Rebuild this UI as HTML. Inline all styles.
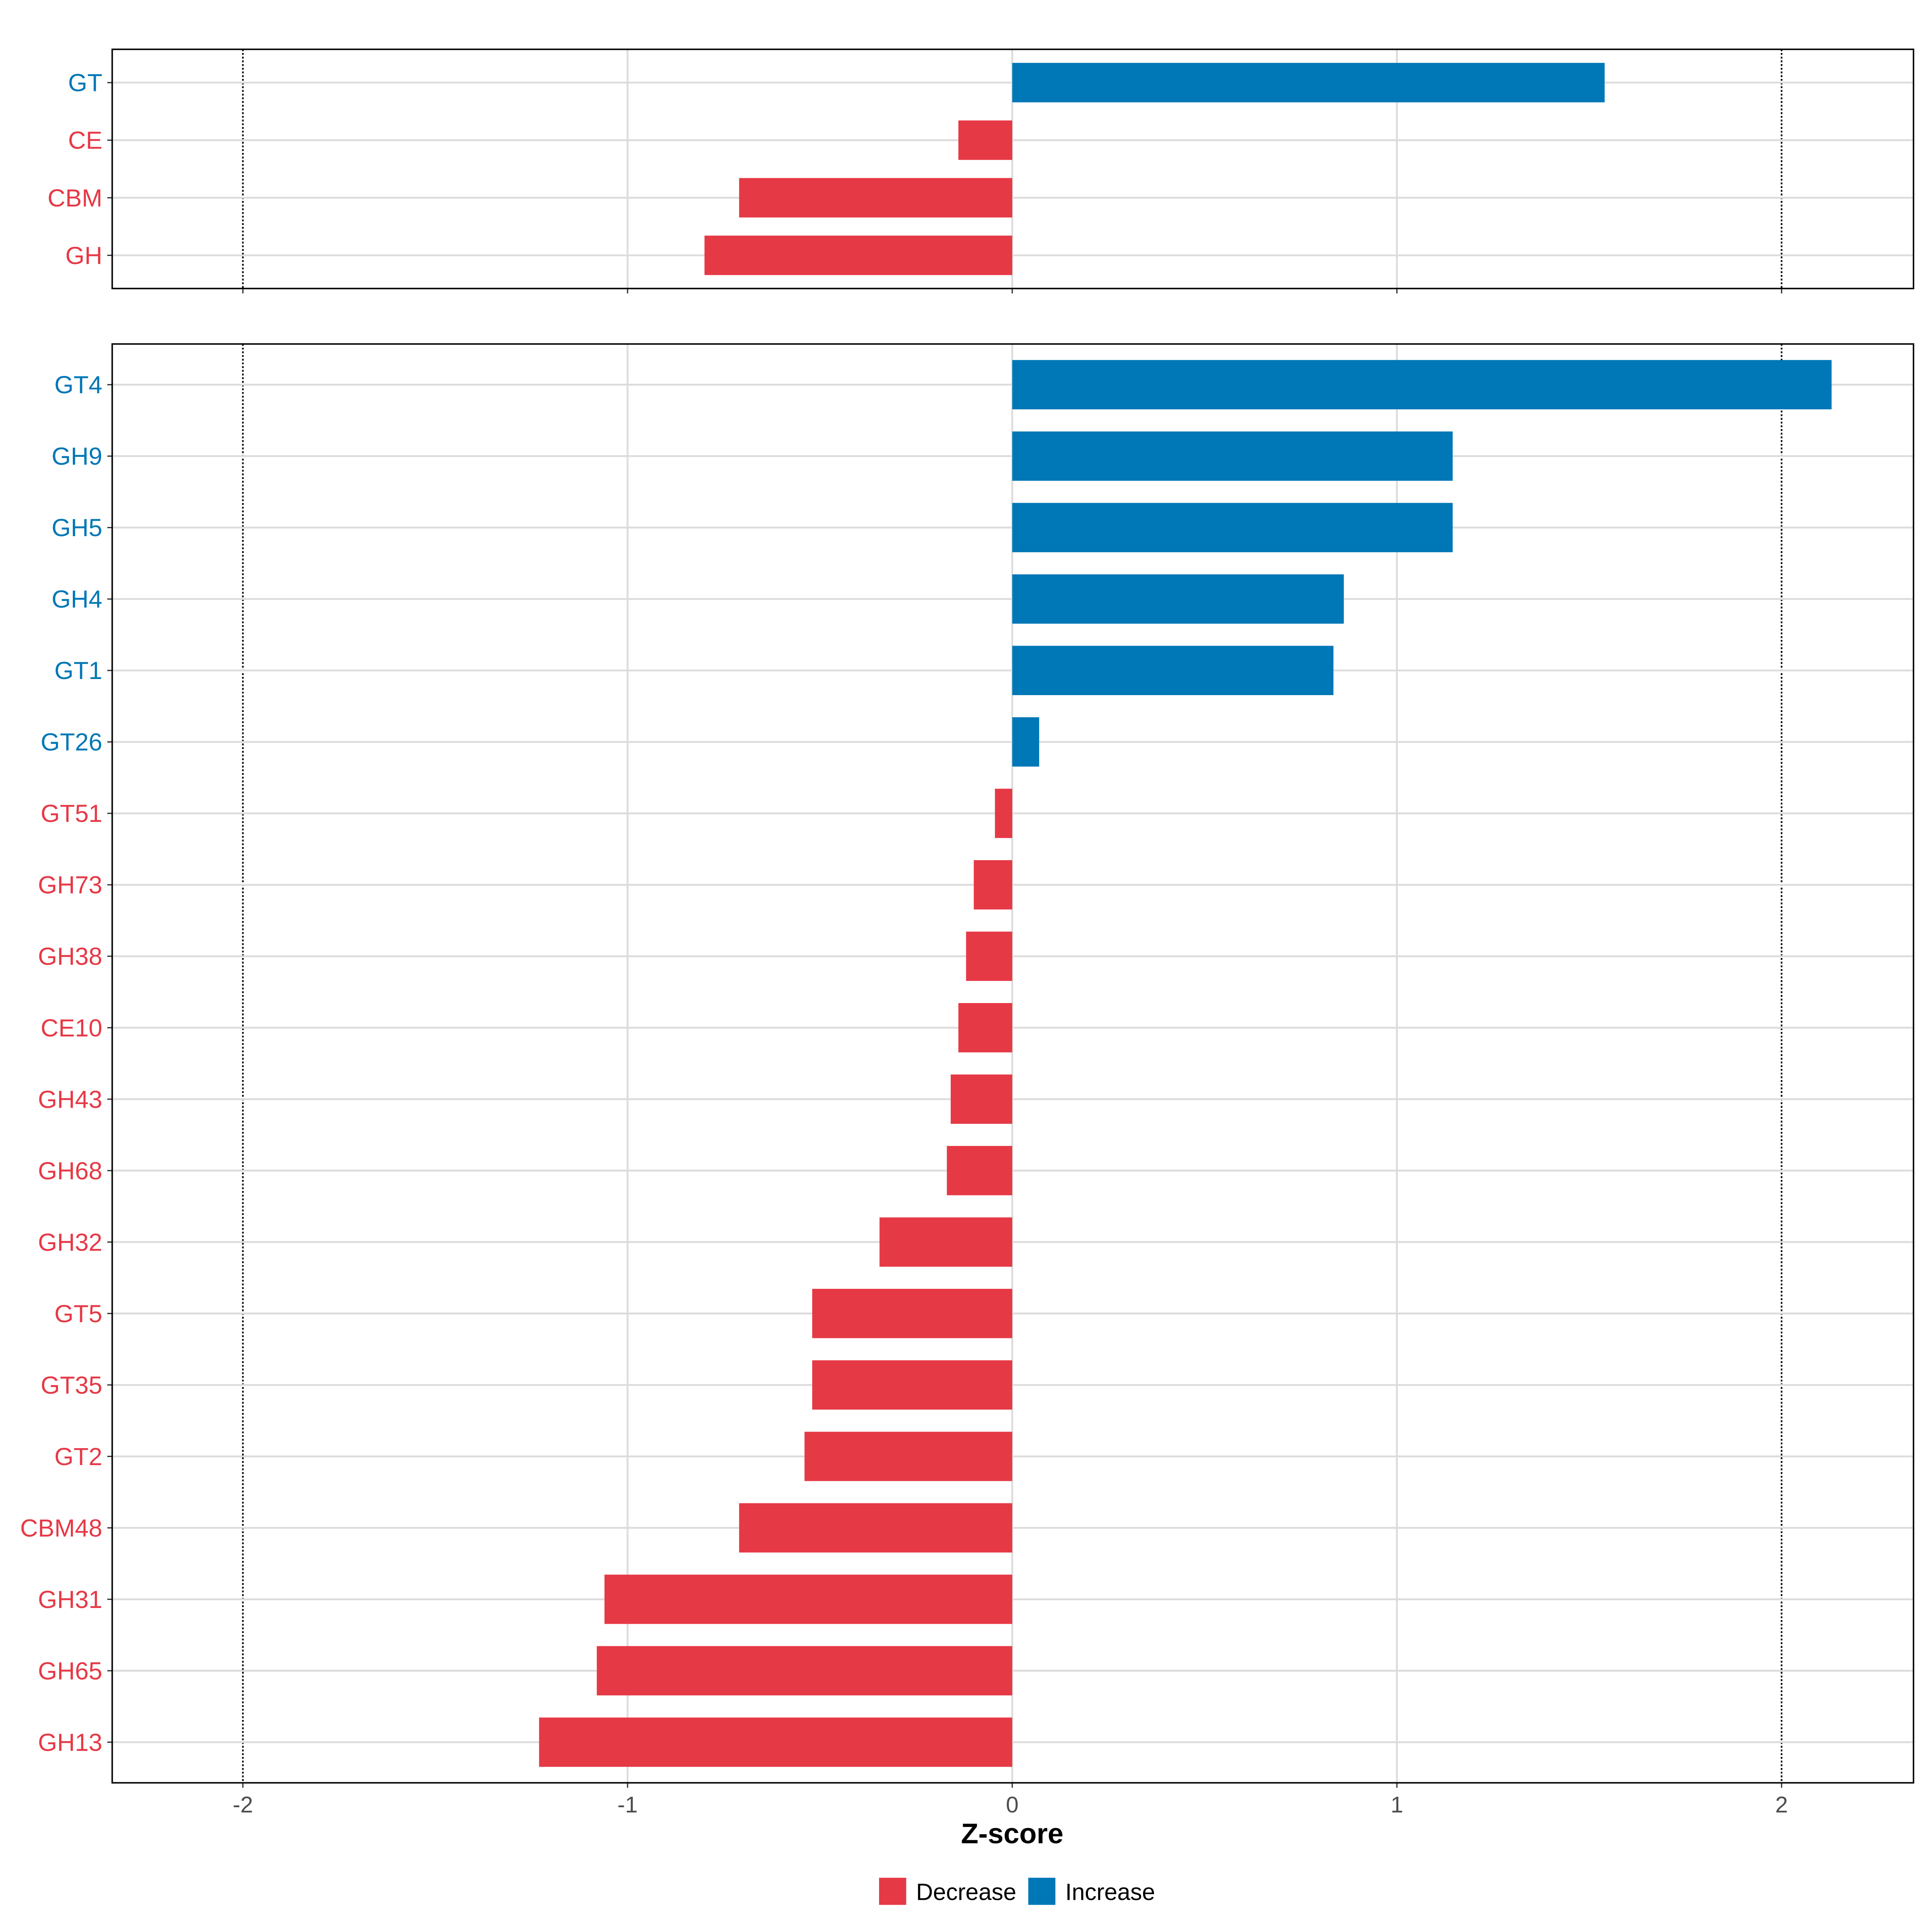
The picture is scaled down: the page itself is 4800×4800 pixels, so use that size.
<!DOCTYPE html>
<html><head><meta charset="utf-8"><style>
html,body{margin:0;padding:0;background:#fff;}
svg{display:block;font-family:"Liberation Sans",Arial,sans-serif;}
</style></head><body>
<svg id="chart" width="4800" height="4800" viewBox="0 0 1567 1567" xmlns="http://www.w3.org/2000/svg">
<rect width="1567" height="1567" fill="#fff"/>
</svg>
<script>
const topCats = ["GT","CE","CBM","GH"];
const topVals = [1.54,-0.14,-0.71,-0.80];
const botCats = ["GT4","GH9","GH5","GH4","GT1","GT26","GT51","GH73","GH38","CE10","GH43","GH68","GH32","GT5","GT35","GT2","CBM48","GH31","GH65","GH13"];
const botVals = [2.13,1.145,1.145,0.862,0.835,0.07,-0.045,-0.10,-0.12,-0.14,-0.16,-0.17,-0.345,-0.52,-0.52,-0.54,-0.71,-1.06,-1.08,-1.23];
const xTicks = [-2,-1,0,1,2];

const NS="http://www.w3.org/2000/svg";
const svg=document.getElementById('chart');
const RED="#E63946", BLUE="#0077B6";
const xS=v=>821+v*312;
const L=91,R=1552;
function mk(tag,attrs,parent){const e=document.createElementNS(NS,tag);for(const k in attrs)e.setAttribute(k,attrs[k]);(parent||svg).appendChild(e);return e;}

function panel(name,cats,vals,top,bottom,y0,step,bh){
  const g=mk('g',{});
  
  
  xTicks.forEach(t=>{
    if(Math.abs(t)===2){
      const l=mk('line',{x1:xS(t),x2:xS(t),y1:top,y2:bottom,stroke:"#000","stroke-width":1.3,"stroke-dasharray":"1.5,1.5"},g);
      
      
    } else {
      const l=mk('line',{x1:xS(t),x2:xS(t),y1:top,y2:bottom,stroke:"#dcdcdc","stroke-width":1.5},g);
      
      
    }
  });
  cats.forEach((c,i)=>{
    const y=y0+i*step;
    const gl=mk('line',{x1:L,x2:R,y1:y,y2:y,stroke:"#dcdcdc","stroke-width":1.5},g);
    
    
    const v=vals[i], col=v>=0?BLUE:RED;
    const b=mk('rect',{x:Math.min(xS(0),xS(v)),y:y-bh/2,width:Math.abs(xS(v)-xS(0)),height:bh,fill:col},g);
    
    
    mk('line',{x1:L-4,x2:L,y1:y,y2:y,stroke:"#333","stroke-width":1},g);
    const t=mk('text',{x:L-8,y:y+7,"text-anchor":"end","font-size":20,fill:col},g);
    t.textContent=c;
    
    
  });
  xTicks.forEach(t=>{mk('line',{x1:xS(t),x2:xS(t),y1:bottom,y2:bottom+4,stroke:"#333","stroke-width":1},g);});
  const f=mk('rect',{x:L,y:top,width:R-L,height:bottom-top,fill:"none",stroke:"#000","stroke-width":1.2},g);
  
  
}
panel('top-panel',topCats,topVals,40,234,67,46.7,32);
panel('bottom-panel',botCats,botVals,279,1446,312,57.95,40);

xTicks.forEach(t=>{
  const tx=mk('text',{x:xS(t),y:1470,"text-anchor":"middle","font-size":18.5,fill:"#4d4d4d"});
  tx.textContent=String(t);
  
  
});
const title=mk('text',{x:821,y:1495,"text-anchor":"middle","font-size":23,"font-weight":"bold",fill:"#000"});
title.textContent="Z-score";



const lg=mk('g',{});


const r1=mk('rect',{x:713,y:1523,width:22,height:22,fill:RED},lg);


const t1=mk('text',{x:743,y:1541,"font-size":19,fill:"#000"},lg);t1.textContent="Decrease";


const r2=mk('rect',{x:834,y:1523,width:22,height:22,fill:BLUE},lg);


const t2=mk('text',{x:864,y:1541,"font-size":19,fill:"#000"},lg);t2.textContent="Increase";


</script>
</body></html>
